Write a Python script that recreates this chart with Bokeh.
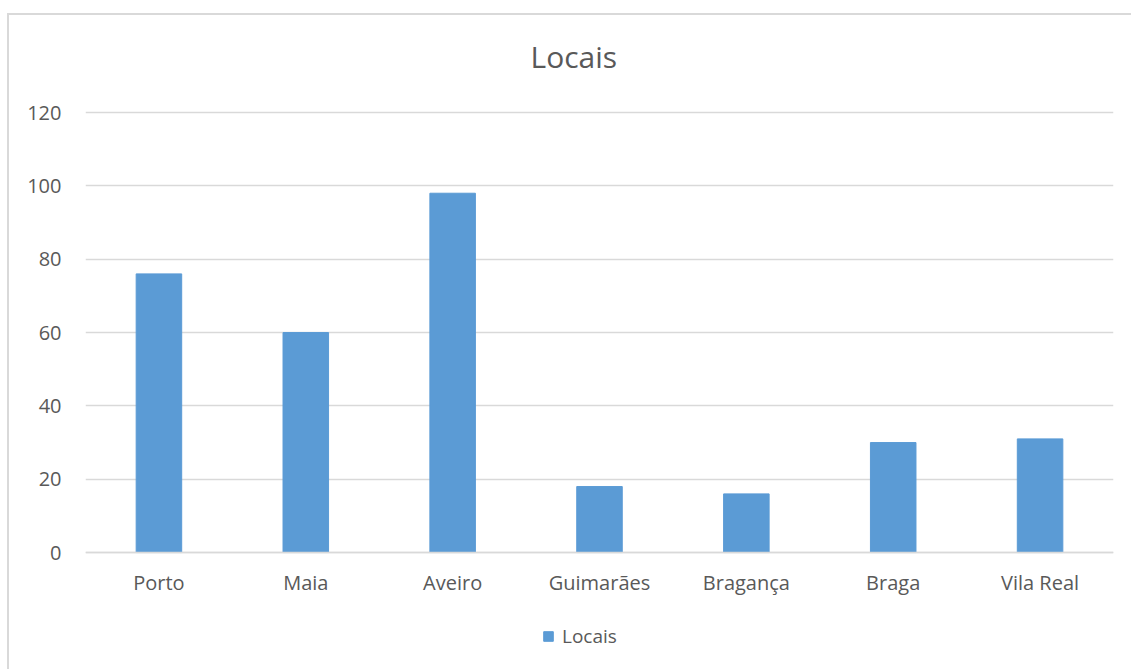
from bokeh.plotting import figure
from bokeh.models import Range1d, FactorRange, ColumnDataSource, Legend, LegendItem
from bokeh.embed import file_html
from bokeh.resources import INLINE

categories = ["Porto", "Maia", "Aveiro", "Guimarães", "Bragança", "Braga", "Vila Real"]
values = [76, 60, 98, 18, 16, 30, 31]
y_ticks = [0, 20, 40, 60, 80, 100, 120]
series_name = "Locais"
title_text = "Locais"

FONT = "Open Sans"
TXT = "#595959"
GRID = "#d9d9d9"
BAR = "#5B9BD5"

src = ColumnDataSource(dict(cat=categories, val=values))

# the frame runs down to the bottom edge so that the legend can sit inside it;
# the category axis is pinned at y = 0
p = figure(width=1122, height=654, output_backend="svg", toolbar_location=None,
           x_range=FactorRange(factors=categories, range_padding=0),
           y_range=Range1d(-31.9, 125.2),
           min_border_left=76, min_border_right=18, min_border_top=78, min_border_bottom=0)
p.margin = (15, 0, 0, 9)
p.styles = {"outline": "2px solid #d9d9d9"}

r = p.vbar(x="cat", top="val", width=0.31, source=src, fill_color=BAR, line_color=BAR)

p.title.text = title_text
p.title.align = "left"
p.title.offset = 445
p.title.text_font = FONT
p.title.text_font_size = "30px"
p.title.text_font_style = "normal"
p.title.text_color = TXT
p.title.standoff = 33

p.outline_line_color = None
p.xgrid.grid_line_color = None
p.ygrid.grid_line_color = GRID
p.ygrid.grid_line_width = 1.5
p.yaxis.ticker = y_ticks

for ax in (p.xaxis[0], p.yaxis[0]):
    ax.major_tick_line_color = None
    ax.minor_tick_line_color = None
    ax.major_label_text_font = FONT
    ax.major_label_text_font_size = "20px"
    ax.major_label_text_color = TXT
p.yaxis.axis_line_color = None
p.yaxis.major_label_standoff = 18
p.xaxis.fixed_location = 0
p.xaxis.axis_line_color = GRID
p.xaxis.axis_line_width = 1.5
p.xaxis.major_label_standoff = 10

legend = Legend(items=[LegendItem(label=series_name, renderers=[r])],
                location=(457, 20), orientation="horizontal",
                glyph_width=12, glyph_height=12, label_standoff=8,
                label_text_font=FONT, label_text_font_size="19px", label_text_color=TXT,
                border_line_color=None, background_fill_alpha=0, padding=0, margin=0)
p.add_layout(legend, "center")

open("out.html", "w").write(file_html(p, INLINE))
